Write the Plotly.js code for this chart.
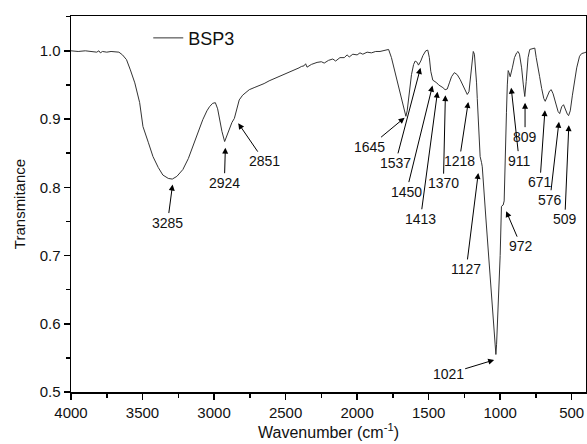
<!DOCTYPE html>
<html>
<head>
<meta charset="utf-8">
<script src="https://cdn.plot.ly/plotly-3.0.1.min.js"></script>
<style>html,body{margin:0;padding:0;background:#fff;}#chart{width:587px;height:444px;}</style>
</head>
<body>
<div id="chart"></div>
<script>
// Spectrum
var wavenumber = [4000,3950,3900,3850,3820,3805,3795,3780,3750,3720,3690,3665,3640,3612,3585,3554,3520,3497,3460,3427,3390,3358,3320,3292,3260,3218,3180,3149,3110,3079,3050,3032,3010,2991,2975,2963,2945,2926,2910,2893,2875,2858,2840,2824,2800,2777,2754,2720,2684,2650,2615,2580,2545,2510,2476,2440,2406,2390,2371,2360,2350,2320,2280,2250,2230,2200,2170,2150,2120,2090,2070,2055,2030,2000,1980,1960,1930,1900,1870,1840,1800,1780,1760,1733,1710,1687,1670,1659,1650,1635,1620,1605,1594,1580,1571,1555,1540,1520,1506,1495,1485,1471,1455,1443,1430,1420,1400,1385,1370,1355,1340,1320,1300,1280,1260,1245,1230,1218,1205,1195,1188,1180,1172,1165,1160,1150,1140,1130,1125,1100,1070,1050,1040,1030,1025,1009,1000,991,979,972,967,960,956,950,944,938,930,915,900,885,875,865,850,838,828,818,805,793,775,758,748,735,724,710,695,685,670,655,643,630,610,595,584,570,557,545,530,522,510,495,480,465,445,430,413,400];
var transmittance = [1.000,0.999,1.000,0.999,0.998,1.000,0.997,0.999,0.998,0.999,0.999,0.998,0.994,0.987,0.972,0.953,0.924,0.889,0.866,0.845,0.829,0.818,0.813,0.812,0.816,0.826,0.842,0.860,0.880,0.899,0.912,0.918,0.923,0.924,0.915,0.899,0.882,0.867,0.876,0.886,0.895,0.901,0.915,0.928,0.935,0.939,0.943,0.946,0.949,0.952,0.956,0.959,0.963,0.966,0.969,0.972,0.975,0.977,0.978,0.981,0.976,0.980,0.983,0.984,0.982,0.986,0.988,0.985,0.990,0.990,0.994,0.991,0.995,0.994,0.997,0.995,0.998,0.997,0.999,0.999,1.001,1.002,0.990,0.966,0.945,0.925,0.910,0.904,0.912,0.940,0.965,0.980,0.985,0.983,0.979,0.985,0.993,1.000,1.001,0.990,0.970,0.957,0.955,0.953,0.950,0.949,0.946,0.943,0.944,0.953,0.962,0.968,0.965,0.958,0.950,0.942,0.936,0.940,0.965,0.990,0.999,0.995,0.975,0.953,0.930,0.880,0.845,0.836,0.830,0.755,0.666,0.607,0.580,0.555,0.570,0.640,0.700,0.772,0.774,0.780,0.836,0.880,0.910,0.950,0.971,0.968,0.962,0.975,0.990,0.997,0.999,0.995,0.975,0.950,0.933,0.955,0.990,1.002,1.003,1.004,0.990,0.972,0.962,0.945,0.930,0.926,0.933,0.941,0.943,0.937,0.922,0.911,0.908,0.918,0.921,0.914,0.907,0.905,0.912,0.935,0.955,0.975,0.992,0.996,0.997,0.998];

// Peak labels: text, arrow head position (data) and label offset (px)
var peakLabels = ["3285","2924","2851","1645","1537","1450","1413","1370","1218","1127","1021","972","911","809","671","576","509"];
var peakX = [3290,2921,2831,1668,1557,1473,1438,1383,1223,1153,1042,958,923,826,687,589,520];
var peakY = [0.804,0.858,0.894,0.902,0.975,0.949,0.940,0.935,0.925,0.821,0.547,0.765,0.946,0.924,0.913,0.896,0.891];
var labelDX = [-5,-1,26,-35,-25,-26,-17,-2,-9,-12,-46,15,8,0,-5,-9,-4];
var labelDY = [38,35,38,29,95,106,127,88,59,96,14,35,73,34,72,78,94];

var xTicks = [4000,3500,3000,2500,2000,1500,1000,500];
var yTicks = [0.5,0.6,0.7,0.8,0.9,1.0];

var FONT = "Liberation Sans, Arial, sans-serif";

var annotations = peakLabels.map(function(t,i){
  return {x: peakX[i], y: peakY[i], xref:'x', yref:'y', text: t,
    showarrow: true, arrowhead: 2, arrowsize: 1.2, arrowwidth: 1, arrowcolor: '#000',
    ax: labelDX[i], ay: labelDY[i], font: {family: FONT, size: 14, color: '#111'}};
});

var trace = {x: wavenumber, y: transmittance, type: 'scatter', mode: 'lines',
  name: 'BSP3', line: {color: '#333', width: 1}};

var layout = {
  width: 587, height: 444,
  margin: {l: 71, r: 1, t: 16, b: 52},
  paper_bgcolor: '#fff', plot_bgcolor: '#fff',
  font: {family: FONT, color: '#111'},
  showlegend: true,
  legend: {x: 0.15, y: 0.941, xanchor: 'left', yanchor: 'middle', bgcolor: 'rgba(0,0,0,0)',
    font: {family: FONT, size: 18, color: '#111'}},
  xaxis: {range: [4000, 400], tickvals: xTicks, ticktext: xTicks.map(String),
    showgrid: false, zeroline: false, showline: true, linecolor: '#000', linewidth: 1.5, mirror: true,
    ticks: 'outside', ticklen: 6, tickwidth: 1.5, tickcolor: '#000',
    minor: {dtick: 250, tick0: 0, ticks: 'outside', ticklen: 4, tickwidth: 1.5, tickcolor: '#000', showgrid: false},
    tickfont: {family: FONT, size: 15, color: '#111'},
    title: {text: 'Wavenumber (cm<sup>-1</sup>)', font: {family: FONT, size: 16, color: '#111'}, standoff: 7}},
  yaxis: {range: [0.5, 1.051], tickvals: yTicks, ticktext: yTicks.map(function(v){return v.toFixed(1);}),
    showgrid: false, zeroline: false, showline: true, linecolor: '#000', linewidth: 1.5, mirror: true,
    ticks: 'outside', ticklen: 6, tickwidth: 1.5, tickcolor: '#000',
    minor: {dtick: 0.05, tick0: 0, ticks: 'outside', ticklen: 4, tickwidth: 1.5, tickcolor: '#000', showgrid: false},
    tickfont: {family: FONT, size: 15, color: '#111'},
    title: {text: 'Transmitance', font: {family: FONT, size: 15, color: '#111'}, standoff: 10}},
  annotations: annotations
};

Plotly.newPlot('chart', [trace], layout, {displayModeBar: false, staticPlot: true});
</script>
</body>
</html>
